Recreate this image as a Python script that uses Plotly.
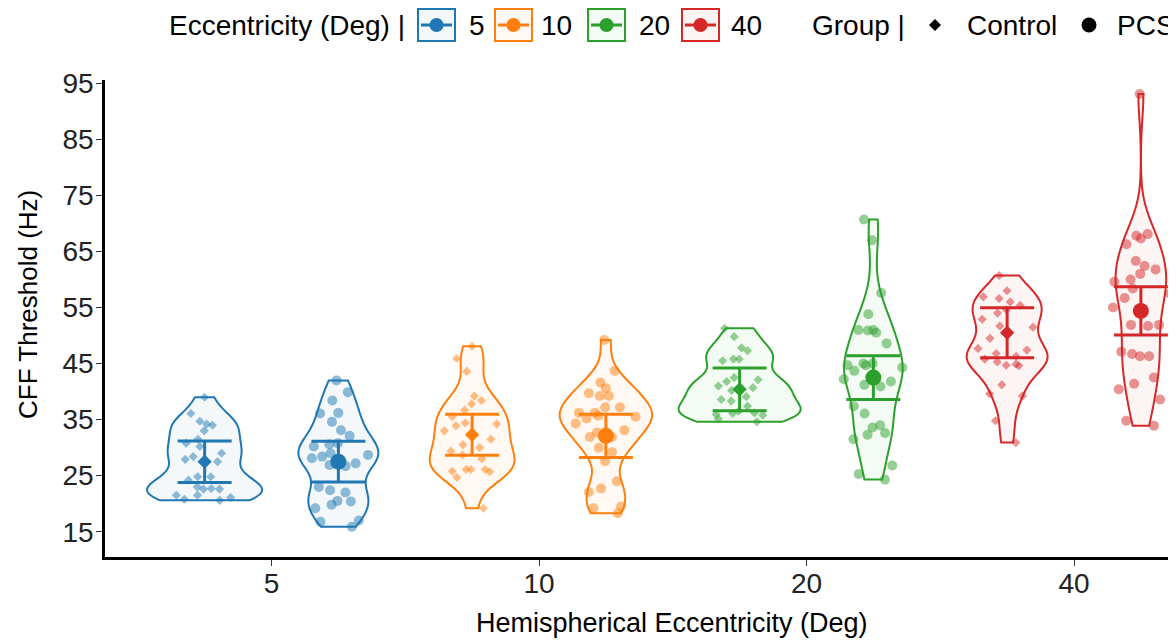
import numpy as np
import plotly.graph_objects as go

# ---------------- data ----------------
ecc_labels = ["5", "10", "20", "40"]
group_names = ["Control", "PCS"]
colors = ["#1f77b4", "#ff7f0e", "#2ca02c", "#d62728"]

ctrl_5 = [39.0, 34.7, 36.1, 34.2, 33.0, 34.0, 31.5, 30.8, 30.2, 29.0, 27.5, 27.9, 28.4,
          24.8, 24.8, 24.2, 23.0, 22.6, 22.6, 22.7, 21.5, 21.5, 21.1, 20.8, 20.6]
pcs_5 = [42.0, 39.9, 38.4, 36.1, 36.2, 34.6, 33.1, 32.1, 30.6, 30.2, 30.8, 28.7, 28.4, 29.0,
         28.1, 27.2, 26.9, 26.7, 23.0, 22.4, 22.0, 20.5, 20.4, 19.8, 19.2, 16.8, 17.0, 15.9]
ctrl_10 = [48.1, 45.9, 43.6, 39.2, 38.4, 37.8, 36.7, 35.5, 34.4, 34.2, 33.9, 33.0, 31.5,
           30.5, 30.0, 28.7, 29.4, 28.0, 26.1, 25.8, 26.1, 25.7, 26.1, 24.7, 19.2]
pcs_10 = [49.2, 43.7, 41.6, 40.6, 39.7, 39.2, 39.2, 37.2, 37.2, 36.2, 36.2, 35.7, 35.2, 35.5,
          34.3, 33.1, 32.7, 31.9, 31.9, 30.0, 29.2, 27.6, 24.0, 22.1, 22.7, 19.5, 19.2, 18.3]
ctrl_20 = [51.3, 49.8, 47.8, 47.3, 45.8, 45.8, 45.5, 42.5, 42.1, 41.8, 41.0, 40.7, 40.2,
           39.1, 38.6, 38.3, 37.4, 36.5, 36.2, 35.9, 36.1, 35.8, 35.1, 34.6]
pcs_20 = [70.7, 67.0, 57.6, 53.8, 50.9, 51.0, 51.0, 50.5, 48.6, 45.0, 44.7, 44.7, 45.0, 44.3,
          43.7, 42.2, 41.8, 41.2, 40.9, 37.4, 36.1, 34.0, 33.6, 32.3, 32.6, 31.5, 26.8, 24.3, 25.3]
ctrl_40 = [60.7, 58.0, 56.6, 56.9, 56.0, 54.6, 55.4, 52.9, 54.0, 51.7, 51.5, 49.5, 47.7,
           46.8, 47.4, 46.3, 45.8, 44.9, 44.6, 45.3, 44.7, 41.2, 39.2, 39.6, 34.8, 30.9]
pcs_40 = [93.1, 68.1, 67.8, 67.3, 66.3, 63.3, 62.4, 61.8, 61.0, 60.0, 59.6, 58.4, 57.5, 56.7,
          55.0, 51.9, 51.7, 51.9, 46.7, 46.3, 47.1, 46.3, 42.5, 41.4, 40.4, 38.6, 34.8, 33.9]

control_values = [ctrl_5, ctrl_10, ctrl_20, ctrl_40]
pcs_values = [pcs_5, pcs_10, pcs_20, pcs_40]

# summary markers (mean and error)
control_mean = [27.5, 32.3, 40.4, 50.5]
control_err = [3.7, 3.65, 3.8, 4.45]
pcs_mean = [27.5, 32.1, 42.5, 54.4]
pcs_err = [3.65, 3.85, 3.9, 4.3]

y_ticks = [15, 25, 35, 45, 55, 65, 75, 85, 95]

# ---------------- layout helpers ----------------
FONT = "Liberation Sans, Arial, sans-serif"
OFF = 8                      # page body margin of the html page
W, H = 1176 - OFF, 641 - OFF
L, R, T = 105 - OFF, 0, 80 - OFF
B = H - (557 - OFF)
PW, PH = W - L - R, H - T - B
DODGE = 0.25
MAXW = 0.456                 # full width of the widest violin (category units)
ADJUST = 0.8


def px(xs):                  # screen pixel -> paper x
    return (xs - OFF - L) / PW


def py(ys):                  # screen pixel -> paper y
    return (H - B - (ys - OFF)) / PH


def rgba(hexc, a):
    h = hexc.lstrip("#")
    return "rgba(%d,%d,%d,%s)" % (int(h[0:2], 16), int(h[2:4], 16), int(h[4:6], 16), a)


def nrd0(v):
    v = np.asarray(v, float)
    sd = v.std(ddof=1)
    iqr = np.subtract(*np.percentile(v, [75, 25]))
    lo = min(sd, iqr / 1.34) if iqr > 0 else sd
    return 0.9 * lo * len(v) ** (-0.2)


def kde_max(v, bw):
    v = np.asarray(v, float)
    grid = np.linspace(v.min(), v.max(), 400)
    d = np.exp(-0.5 * ((grid[:, None] - v[None, :]) / bw) ** 2).sum(1)
    return (d / (len(v) * bw * np.sqrt(2 * np.pi))).max()


entries = []
for gname, allvals in zip(group_names, [control_values, pcs_values]):
    for ei, vals in enumerate(allvals):
        bw = ADJUST * nrd0(vals)
        entries.append((gname, ei, vals, bw, kde_max(vals, bw)))
global_max = max(e[4] for e in entries)

fig = go.Figure()

# violin outlines, width proportional to peak density (equal-area scaling)
for gname, ei, vals, bw, km in entries:
    pos = ei + (-DODGE if gname == "Control" else DODGE)
    c = colors[ei]
    fig.add_trace(go.Violin(
        x=[pos] * len(vals), y=vals,
        width=MAXW * km / global_max, spanmode="hard", bandwidth=bw,
        line=dict(color=c, width=2), fillcolor=rgba(c, 0.05),
        points=False, box=dict(visible=False), meanline=dict(visible=False),
        hoverinfo="skip", showlegend=False,
    ))

# jittered points (drawn with a constant jitter band)
for gname, ei, vals, bw, km in entries:
    pos = ei + (-DODGE if gname == "Control" else DODGE)
    c = colors[ei]
    sym = "diamond" if gname == "Control" else "circle"
    msize = 7 if gname == "Control" else 10
    fig.add_trace(go.Violin(
        x=[pos] * len(vals), y=vals,
        width=MAXW, spanmode="hard", bandwidth=bw,
        line=dict(color="rgba(0,0,0,0)", width=0), fillcolor="rgba(0,0,0,0)",
        points="all", pointpos=0, jitter=0.55,
        marker=dict(symbol=sym, size=msize, color=rgba(c, 0.5), line=dict(width=0)),
        box=dict(visible=False), meanline=dict(visible=False),
        hoverinfo="skip", showlegend=False,
    ))

# mean +/- error markers
for gname, means, errs in [("Control", control_mean, control_err), ("PCS", pcs_mean, pcs_err)]:
    sym = "diamond" if gname == "Control" else "circle"
    size = 11 if gname == "Control" else 16
    for ei in range(len(ecc_labels)):
        pos = ei + (-DODGE if gname == "Control" else DODGE)
        c = colors[ei]
        fig.add_trace(go.Scatter(
            x=[pos], y=[means[ei]], mode="markers",
            marker=dict(symbol=sym, size=size, color=c, line=dict(width=0)),
            error_y=dict(type="data", array=[errs[ei]], visible=True,
                         width=27, thickness=3, color=c),
            hoverinfo="skip", showlegend=False,
        ))

cat_px = 267.5
x0 = -(271.5 - 105) / cat_px
fig.update_xaxes(
    range=[x0, x0 + PW / cat_px],
    tickmode="array", tickvals=list(range(len(ecc_labels))), ticktext=ecc_labels,
    showline=True, linecolor="black", linewidth=2.5,
    ticks="outside", ticklen=6, tickwidth=1.2, tickcolor="#333333",
    ticklabelstandoff=-6,
    showgrid=False, zeroline=False,
    tickfont=dict(family=FONT, size=28, color="#222222"),
)
fig.update_yaxes(
    range=[10.49, 95.59],
    tickmode="array", tickvals=y_ticks, ticktext=[str(t) for t in y_ticks],
    showline=True, linecolor="black", linewidth=2.5,
    ticks="outside", ticklen=6, tickwidth=1.2, tickcolor="#333333",
    ticklabelstandoff=-3,
    showgrid=False, zeroline=False,
    tickfont=dict(family=FONT, size=28, color="#222222"),
)

shapes = []
annotations = []

# axis titles
annotations.append(dict(text="Hemispherical Eccentricity (Deg)", xref="paper", yref="paper",
                        x=px(672), y=py(623), xanchor="center", yanchor="middle",
                        showarrow=False, font=dict(family=FONT, size=27, color="black")))
annotations.append(dict(text="CFF Threshold (Hz)", xref="paper", yref="paper",
                        x=px(28), y=py(305), xanchor="center", yanchor="middle", textangle=-90,
                        showarrow=False, font=dict(family=FONT, size=26, color="black")))

# custom legend
LY = 25


def ltext(t, xl):
    annotations.append(dict(text=t, xref="paper", yref="paper", x=px(xl), y=py(LY),
                            xanchor="left", yanchor="middle", showarrow=False,
                            font=dict(family=FONT, size=28, color="black")))


ltext("Eccentricity (Deg) |", 167)
box_left = [418, 495, 588, 682]
label_left = [467, 539, 637, 729]
for i, lab in enumerate(ecc_labels):
    c = colors[i]
    bx0, bx1 = box_left[i], box_left[i] + 37
    shapes.append(dict(type="rect", xref="paper", yref="paper",
                       x0=px(bx0), x1=px(bx1), y0=py(LY + 16), y1=py(LY - 16),
                       line=dict(color=c, width=2), fillcolor=rgba(c, 0.05)))
    shapes.append(dict(type="line", xref="paper", yref="paper",
                       x0=px(bx0 + 3), x1=px(bx1 - 3), y0=py(LY), y1=py(LY),
                       line=dict(color=c, width=3)))
    cx = (bx0 + bx1) / 2
    shapes.append(dict(type="circle", xref="paper", yref="paper",
                       x0=px(cx - 7), x1=px(cx + 7), y0=py(LY + 7), y1=py(LY - 7),
                       line=dict(color=c, width=0), fillcolor=c))
    ltext(lab, label_left[i])

ltext("Group |", 810)
dx, dy = 935, LY
shapes.append(dict(type="path", xref="paper", yref="paper",
                   path="M %f,%f L %f,%f L %f,%f L %f,%f Z" % (
                       px(dx - 6), py(dy), px(dx), py(dy - 6), px(dx + 6), py(dy), px(dx), py(dy + 6)),
                   line=dict(width=0), fillcolor="black"))
ltext("Control", 965)
cx = 1089
shapes.append(dict(type="circle", xref="paper", yref="paper",
                   x0=px(cx - 7.5), x1=px(cx + 7.5), y0=py(LY + 7.5), y1=py(LY - 7.5),
                   line=dict(width=0), fillcolor="black"))
ltext("PCS", 1115)

fig.update_layout(
    width=W, height=H,
    margin=dict(l=L, r=R, t=T, b=B, pad=0),
    plot_bgcolor="white", paper_bgcolor="white",
    showlegend=False, violinmode="overlay",
    shapes=shapes, annotations=annotations,
    font=dict(family=FONT),
)

fig.write_html("out.html")
